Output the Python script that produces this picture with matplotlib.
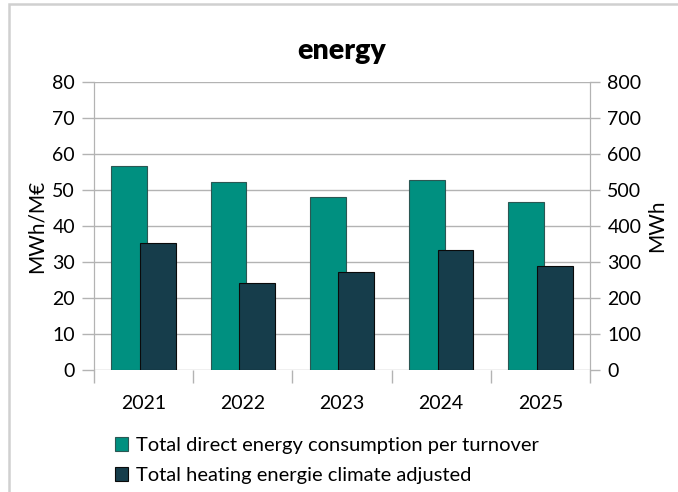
import numpy as np
import matplotlib.pyplot as plt
from matplotlib.patches import Rectangle, Patch

plt.rcParams['font.family'] = ['Lato', 'DejaVu Sans']

years = ['2021', '2022', '2023', '2024', '2025']
per_turnover = [56.7, 52.3, 48.0, 52.8, 46.6]      # MWh/M€ (left axis)
heating_adj = [354, 241, 273, 335, 288]            # MWh (right axis)

teal = '#009080'
dark = '#163d4b'
grid = '#b3b3b3'

W, H = 678, 492
fig = plt.figure(figsize=(W / 100, H / 100), dpi=100)

# outer frame, cut off at right and bottom like the screenshot
fig.patches.append(Rectangle((9 / W, -0.1), 1.2, (H - 4) / H + 0.1, transform=fig.transFigure,
                             fill=False, edgecolor='#d0d0d0', linewidth=1.8))

ax = fig.add_axes([94 / W, (H - 370) / H, 496 / W, (370 - 82.3) / H])
ax2 = ax.twinx()

x = np.arange(len(years))
w = 0.36
off = 0.144
ax.bar(x - off, per_turnover, w, color=teal, edgecolor='#2b5753', linewidth=0.8, zorder=2)
ax2.bar(x + off, heating_adj, w, color=dark, edgecolor='#0a0a0a', linewidth=0.8, zorder=2)

ax.set_xlim(-0.5, len(years) - 0.5)
ax.set_ylim(0, 80)
ax2.set_ylim(0, 800)
ax.set_yticks(range(0, 81, 10))
ax2.set_yticks(range(0, 801, 100))

ax.set_axisbelow(True)
ax.yaxis.grid(True, color=grid, linewidth=1)

ax.set_xticks(x)
ax.set_xticklabels(years)
ax.set_xticks(np.arange(-0.5, len(years), 1), minor=True)
ax.tick_params(axis='x', which='major', length=0, pad=18, labelsize=14)
ax.tick_params(axis='x', which='minor', length=9, color=grid, width=1)
ax.tick_params(axis='y', length=8.6, color=grid, width=1, labelsize=14, pad=5)
ax2.tick_params(axis='y', length=7.5, color=grid, width=1, labelsize=14, pad=5)

for a in (ax, ax2):
    for s in a.spines.values():
        s.set_color(grid)
    a.spines['top'].set_visible(False)
    a.spines['bottom'].set_visible(False)

ax.set_ylabel('MWh/M€', fontsize=15, labelpad=4)
ax2.set_ylabel('MWh', fontsize=15, labelpad=4)

fig.text(342 / W, 1 - 51 / H, 'energy', ha='center', va='center', fontsize=20.5, fontweight='heavy')

handles = [Patch(facecolor=teal, edgecolor='#2b5753', linewidth=0.8),
           Patch(facecolor=dark, edgecolor='#0a0a0a', linewidth=0.8)]
fig.legend(handles, ['Total direct energy consumption per turnover',
                     'Total heating energie climate adjusted'],
           loc='upper left', bbox_to_anchor=(115 / W, 1 - 437 / H), frameon=False,
           fontsize=14.5, handlelength=0.65, handleheight=0.65, handletextpad=0.4,
           labelspacing=0.65, borderaxespad=0, borderpad=0)

fig.savefig('out.png', dpi=100)
